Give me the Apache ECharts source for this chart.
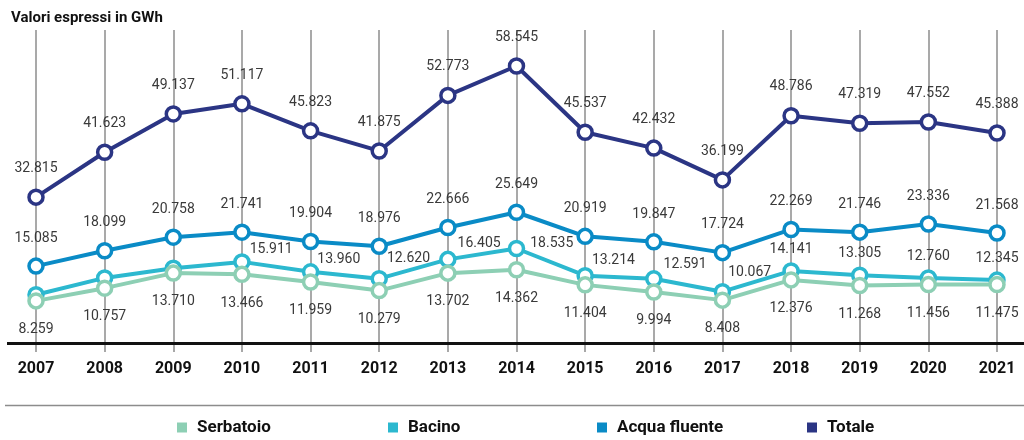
<!DOCTYPE html>
<html>
<head>
<meta charset="utf-8">
<script src="https://cdn.jsdelivr.net/npm/echarts@6/dist/echarts.min.js"></script>
<style>
  html, body { margin: 0; padding: 0; background: #fff; }
  #mychart { width: 1024px; height: 440px; }
</style>
</head>
<body>
<div id="mychart"></div>
<script>
const years = ["2007", "2008", "2009", "2010", "2011", "2012", "2013", "2014", "2015", "2016", "2017", "2018", "2019", "2020", "2021"];
const serbatoio = [8.259, 10.757, 13.710, 13.466, 11.959, 10.279, 13.702, 14.362, 11.404, 9.994, 8.408, 12.376, 11.268, 11.456, 11.475];
const bacino = [9.471, 12.767, 14.669, 15.911, 13.960, 12.620, 16.405, 18.535, 13.214, 12.591, 10.067, 14.141, 13.305, 12.760, 12.345];
const acquaFluente = [15.085, 18.099, 20.758, 21.741, 19.904, 18.976, 22.666, 25.649, 20.919, 19.847, 17.724, 22.269, 21.746, 23.336, 21.568];
const totale = [32.815, 41.623, 49.137, 51.117, 45.823, 41.875, 52.773, 58.545, 45.537, 42.432, 36.199, 48.786, 47.319, 47.552, 45.388];

// colori
const cSerbatoio = "#8dcfb4";
const cBacino = "#2cb8cf";
const cAcqua = "#0a8bc6";
const cTotale = "#2b3584";

// etichette Bacino: nascoste nei primi anni, spostate a destra poi sopra
const bacinoLabelShift = [null, null, null, [6, -12], [5, -12], [6, -20], [8, -16], [12, -5], [5, -15], [8, -14], [4, -19], "top", "top", "top", "top"];

const fmt = p => p.value.toFixed(3);
const labelFont = { fontFamily: "Roboto", fontSize: 14, color: "#3a3a3a" };

function lineSeries(name, data, color, yAxisIndex, z, label) {
  return {
    name: name,
    type: "line",
    data: data,
    yAxisIndex: yAxisIndex,
    z: z,
    symbol: "circle",
    symbolSize: 14,
    legendIcon: "rect",
    color: color,
    lineStyle: { color: color, width: 4 },
    itemStyle: { color: "#fff", borderColor: color, borderWidth: 3.5 },
    emphasis: { disabled: true },
    label: Object.assign({ show: true, formatter: fmt }, labelFont, label)
  };
}

const bacinoData = bacino.map((v, i) => {
  const s = bacinoLabelShift[i];
  if (s === null) return { value: v, label: { show: false } };
  if (s === "top") return { value: v, label: { position: "top", distance: 6 } };
  return { value: v, label: { position: "right", distance: 0, offset: [s[0] - 7, s[1]] } };
});

function legendItem(name, color, left) {
  return {
    left: left,
    top: 414,
    icon: "rect",
    itemWidth: 10,
    itemHeight: 10,
    selectedMode: false,
    itemStyle: { color: color, borderWidth: 0 },
    lineStyle: { width: 0, opacity: 0 },
    textStyle: { fontFamily: "Roboto", fontWeight: "bold", fontSize: 17, color: "#111", padding: [0, 0, 0, 5] },
    data: [{ name: name, icon: "rect", itemStyle: { color: color, borderColor: color, borderWidth: 0 }, lineStyle: { width: 0, opacity: 0 } }]
  };
}

const chart = echarts.init(document.getElementById("mychart"));
const option = {
  animation: false,
  title: {
    text: "Valori espressi in GWh",
    left: 6,
    top: 6,
    textStyle: { fontFamily: "Roboto", fontWeight: "bold", fontSize: 15, color: "#111" }
  },
  grid: { left: 36, right: 27, top: 30, bottom: 97 },
  xAxis: {
    type: "category",
    data: years,
    boundaryGap: false,
    axisLine: { show: false },
    axisTick: { show: true, length: 9, lineStyle: { color: "#8c8c8c", width: 1.5 } },
    splitLine: { show: true, lineStyle: { color: "#8c8c8c", width: 1.5 } },
    axisLabel: { margin: 18, fontFamily: "Roboto", fontWeight: "bold", fontSize: 16, color: "#111" }
  },
  yAxis: [
    { type: "value", min: 0, max: 61.4, show: false, splitLine: { show: false } },
    { type: "value", min: 4.2, max: 65.6, show: false, splitLine: { show: false } }
  ],
  legend: [
    legendItem("Serbatoio", cSerbatoio, 172),
    legendItem("Bacino", cBacino, 383),
    legendItem("Acqua fluente", cAcqua, 592),
    legendItem("Totale", cTotale, 802)
  ],
  graphic: [
    { type: "line", shape: { x1: 7, y1: 343.5, x2: 1024, y2: 343.5 }, style: { stroke: "#111", lineWidth: 3 }, z: 10 },
    { type: "line", shape: { x1: 5, y1: 405.5, x2: 1024, y2: 405.5 }, style: { stroke: "#8c8c8c", lineWidth: 1.5 }, z: 10 }
  ],
  series: [
    lineSeries("Totale", totale, cTotale, 1, 3, { position: "top", distance: 13 }),
    lineSeries("Acqua fluente", acquaFluente, cAcqua, 0, 4, { position: "top", distance: 12 }),
    lineSeries("Bacino", bacinoData, cBacino, 0, 5, {}),
    lineSeries("Serbatoio", serbatoio, cSerbatoio, 0, 6, { position: "bottom", distance: 13 })
  ]
};
chart.setOption(option);
</script>
</body>
</html>
